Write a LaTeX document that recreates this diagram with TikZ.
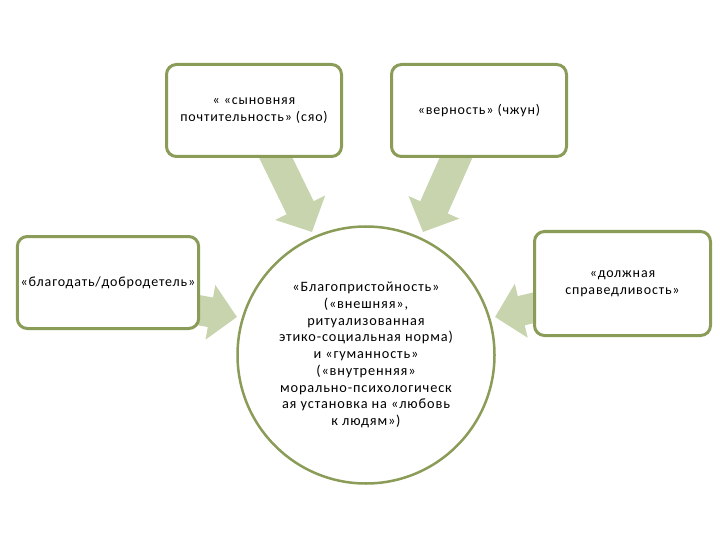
\documentclass[tikz,border=0pt]{standalone}
\usepackage{fontspec}
\setmainfont{Carlito}
\newfontfamily\spacedfont[LetterSpace=6]{Carlito}
\usepackage{tikz}
\usetikzlibrary{shapes.geometric, arrows.meta, positioning, calc, backgrounds}
\definecolor{olivegreen}{RGB}{138,156,87}
\definecolor{sagegreen}{RGB}{199,212,173}

\begin{document}
\begin{tikzpicture}[x=1pt, y=-1pt, node distance=47pt,
    virtue/.style={rectangle, draw=olivegreen, fill=white, line width=3pt, rounded corners=10pt, minimum width=175pt, minimum height=92pt, align=center, font=\spacedfont\fontsize{14}{17.5}\selectfont},
    core/.style={circle, draw=olivegreen, fill=white, line width=2.5pt, minimum size=257pt, inner sep=0pt, align=center, font=\spacedfont\fontsize{14.3}{16.7}\selectfont},
    line/.style={draw=sagegreen, line width=30pt, -{Triangle[length=27pt, width=54pt]}}]

    \useasboundingbox (0,0) rectangle (720,540);

    \node [core] (li) at (366,355) {«Благопристойность»\\(«внешняя»,\\ритуализованная\\этико-социальная норма)\\и «гуманность»\\(«внутренняя»\\морально-психологическ\\ая установка на «любовь\\к людям»)};

    \node [virtue] (xiao) at (254,110.5) {« «сыновняя\\почтительность» (сяо)};
    \node [virtue, right=47pt of xiao] (zhong) {«верность» (чжун)};
    \node [virtue, minimum width=177pt] (de) at (108,282.5) {«благодать/добродетель»};
    \node [virtue, minimum width=176pt, minimum height=104pt] (yi) at (622.5,283.5) {«должная\\справедливость»};

    \coordinate (t_xiao) at (312,232);
    \coordinate (t_zhong) at (423,232);
    \coordinate (t_de) at (237,317);
    \coordinate (t_yi) at (495,317);

    \begin{scope}[on background layer]
    \path [line] ($(xiao.south)+(18,-8)$) -- (t_xiao);
    \path [line] ($(zhong.south)+(-20,-7)$) -- (t_zhong);
    \path [line] ($(de.east)+(-8,26.5)$) -- (t_de);
    \path [line] ($(yi.west)+(8,22.5)$) -- (t_yi);
    \end{scope}
\end{tikzpicture}
\end{document}
